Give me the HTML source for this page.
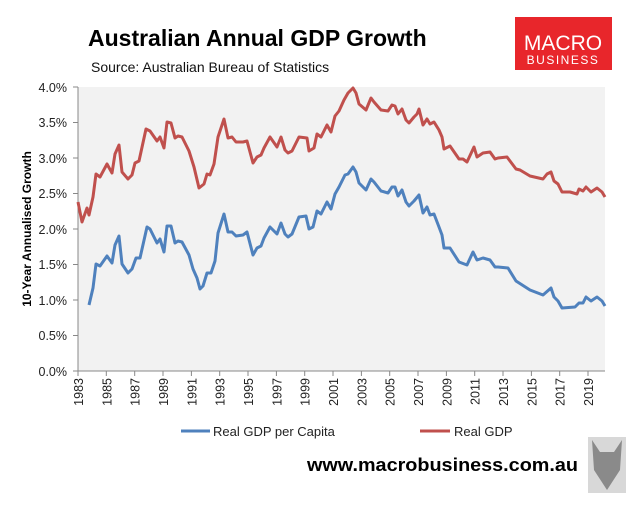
<!DOCTYPE html>
<html><head><style>
body{margin:0;background:#fff;width:635px;height:501px;overflow:hidden;font-family:"Liberation Sans",sans-serif}
</style></head><body>
<svg width="635" height="501" viewBox="0 0 635 501" xmlns="http://www.w3.org/2000/svg" font-family="Liberation Sans, sans-serif">
<rect x="0" y="0" width="635" height="501" fill="#fff"/>
<text x="88" y="46" font-size="23" font-weight="bold" fill="#000">Australian Annual GDP Growth</text>
<text x="91" y="72" font-size="14" fill="#111">Source: Australian Bureau of Statistics</text>
<rect x="515" y="17" width="97" height="53" fill="#e8262b"/>
<text x="563" y="50" font-size="21" fill="#fff" text-anchor="middle">MACRO</text>
<text x="563" y="64" font-size="12" fill="#fff" text-anchor="middle" letter-spacing="1.5">BUSINESS</text>
<rect x="78" y="87" width="527" height="284" fill="#f2f2f2"/>
<g stroke="#888" stroke-width="1">
<line x1="78" y1="87" x2="78" y2="371"/>
<line x1="78" y1="371" x2="605" y2="371"/>
<line x1="73" y1="87" x2="78" y2="87"/><line x1="73" y1="122.5" x2="78" y2="122.5"/><line x1="73" y1="158" x2="78" y2="158"/><line x1="73" y1="193.5" x2="78" y2="193.5"/><line x1="73" y1="229" x2="78" y2="229"/><line x1="73" y1="264.5" x2="78" y2="264.5"/><line x1="73" y1="300" x2="78" y2="300"/><line x1="73" y1="335.5" x2="78" y2="335.5"/><line x1="73" y1="371" x2="78" y2="371"/>
</g>
<g font-size="12.5" fill="#222" text-anchor="end">
<text x="67" y="92">4.0%</text><text x="67" y="127">3.5%</text><text x="67" y="163">3.0%</text><text x="67" y="198">2.5%</text><text x="67" y="234">2.0%</text><text x="67" y="269">1.5%</text><text x="67" y="305">1.0%</text><text x="67" y="340">0.5%</text><text x="67" y="376">0.0%</text>
</g>
<text transform="translate(31,229) rotate(-90)" font-size="12" font-weight="bold" text-anchor="middle">10-Year Annualised Growth</text>
<g stroke="#888"><line x1="78" y1="371" x2="78" y2="376"/><line x1="106.3" y1="371" x2="106.3" y2="376"/><line x1="134.7" y1="371" x2="134.7" y2="376"/><line x1="163" y1="371" x2="163" y2="376"/><line x1="191.4" y1="371" x2="191.4" y2="376"/><line x1="219.7" y1="371" x2="219.7" y2="376"/><line x1="248" y1="371" x2="248" y2="376"/><line x1="276.4" y1="371" x2="276.4" y2="376"/><line x1="304.7" y1="371" x2="304.7" y2="376"/><line x1="333" y1="371" x2="333" y2="376"/><line x1="361.4" y1="371" x2="361.4" y2="376"/><line x1="389.7" y1="371" x2="389.7" y2="376"/><line x1="418" y1="371" x2="418" y2="376"/><line x1="446.4" y1="371" x2="446.4" y2="376"/><line x1="474.7" y1="371" x2="474.7" y2="376"/><line x1="503" y1="371" x2="503" y2="376"/><line x1="531.4" y1="371" x2="531.4" y2="376"/><line x1="559.7" y1="371" x2="559.7" y2="376"/><line x1="588" y1="371" x2="588" y2="376"/></g>
<g font-size="12.5" fill="#222" text-anchor="end">
<text transform="translate(83,378) rotate(-90)">1983</text>
<text transform="translate(111.3,378) rotate(-90)">1985</text>
<text transform="translate(139.7,378) rotate(-90)">1987</text>
<text transform="translate(168,378) rotate(-90)">1989</text>
<text transform="translate(196.4,378) rotate(-90)">1991</text>
<text transform="translate(224.7,378) rotate(-90)">1993</text>
<text transform="translate(253,378) rotate(-90)">1995</text>
<text transform="translate(281.4,378) rotate(-90)">1997</text>
<text transform="translate(309.7,378) rotate(-90)">1999</text>
<text transform="translate(338,378) rotate(-90)">2001</text>
<text transform="translate(366.4,378) rotate(-90)">2003</text>
<text transform="translate(394.7,378) rotate(-90)">2005</text>
<text transform="translate(423,378) rotate(-90)">2007</text>
<text transform="translate(451.4,378) rotate(-90)">2009</text>
<text transform="translate(479.7,378) rotate(-90)">2011</text>
<text transform="translate(508,378) rotate(-90)">2013</text>
<text transform="translate(536.4,378) rotate(-90)">2015</text>
<text transform="translate(564.7,378) rotate(-90)">2017</text>
<text transform="translate(593,378) rotate(-90)">2019</text>
</g>
<polyline fill="none" stroke="#c0504d" stroke-width="3" stroke-linejoin="round" points="78,202 82,222 87,208 89,215 93,197 96,174 100,177 107,164 112,173 115,154 119,145 122,172 128,179 132,175 135,163 139,161 146,129 150,131 157,141 160,137 164,148 167,122 171,123 175,138 178,136 182,137 189,151 194,167 199,188 204,184 207,174 210,175 214,164 218,137 224,119 228,138 232,137 236,142 243,142 247,141 253,163 257,157 261,155 264,148 270,137 277,147 281,137 285,150 288,153 292,151 299,137 307,138 309,151 314,148 317,134 321,137 327,125 331,132 335,116 339,111 344,100 348,93 353,88 356,93 359,104 366,110 371,98 374,102 381,110 388,111 392,105 395,106 398,114 402,109 406,120 409,123 414,117 417,114 419,109 423,125 427,119 430,124 434,122 439,130 442,137 444,149 450,146 459,159 463,159 467,162 474,147 477,157 483,153 490,152 495,159 498,158 507,157 510,161 516,169 520,170 530,176 543,179 547,174 551,172 554,181 558,184 562,192 570,192 577,194 579,189 583,191 586,187 591,192 597,188 602,192 605,197"/>
<polyline fill="none" stroke="#4f81bd" stroke-width="3" stroke-linejoin="round" points="89,305 93,288 96,264 100,266 107,256 112,263 115,245 119,236 122,264 128,273 132,269 136,258 140,258 147,227 150,229 157,243 160,239 164,252 167,226 171,226 175,243 178,241 182,242 189,255 193,269 197,278 200,289 203,286 207,273 211,273 215,261 218,233 224,214 228,232 232,232 236,236 243,235 247,232 253,255 257,248 261,246 264,238 270,227 277,234 281,223 285,234 288,237 292,234 299,217 306,216 309,229 313,227 317,211 321,214 327,202 331,209 335,194 339,187 345,175 348,174 353,167 356,172 359,183 366,190 371,179 374,182 381,191 388,193 392,187 395,187 398,196 402,190 406,202 409,206 414,201 419,195 423,213 427,207 430,215 434,214 439,227 442,235 444,248 450,248 459,262 467,265 473,252 477,260 483,258 490,260 495,267 498,267 508,268 516,281 530,290 543,295 551,288 554,297 558,301 562,308 575,307 579,303 583,303 586,297 591,301 597,297 602,301 605,306"/>
<line x1="181" y1="431" x2="210" y2="431" stroke="#4f81bd" stroke-width="3"/>
<text x="213" y="436" font-size="13" fill="#222">Real GDP per Capita</text>
<line x1="420" y1="431" x2="450" y2="431" stroke="#c0504d" stroke-width="3"/>
<text x="454" y="436" font-size="13" fill="#222">Real GDP</text>
<text x="307" y="471" font-size="18" font-weight="bold" fill="#000" textLength="271" lengthAdjust="spacingAndGlyphs">www.macrobusiness.com.au</text>
<rect x="588" y="437" width="38" height="56" fill="#d8d8d8"/>
<path d="M592 440 L600 452 L614 452 L622 440 L620 470 L607 490 L594 470 Z" fill="#8a8a8a"/>
</svg>
</body></html>
